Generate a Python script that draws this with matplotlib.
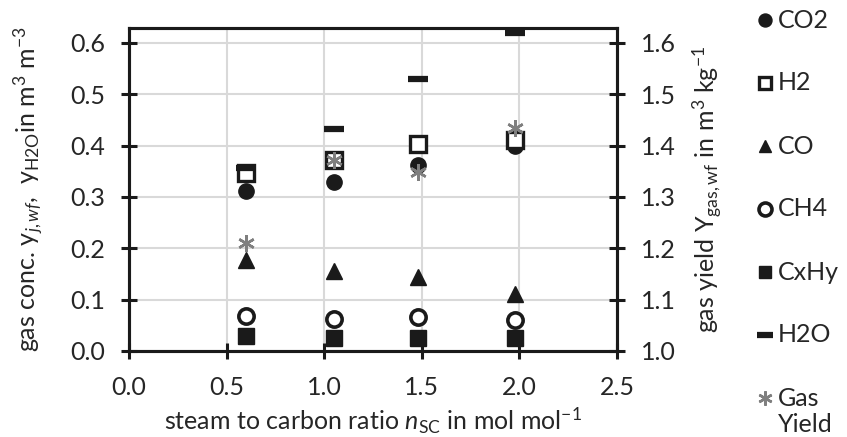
import matplotlib
matplotlib.use("Agg")
import matplotlib.pyplot as plt
from matplotlib.lines import Line2D
from matplotlib.ticker import FormatStrFormatter

plt.rcParams['font.family'] = ['Lato', 'DejaVu Sans']
plt.rcParams['mathtext.fontset'] = 'custom'
plt.rcParams['mathtext.rm'] = 'Lato'
plt.rcParams['mathtext.it'] = 'Lato:italic'
plt.rcParams['mathtext.bf'] = 'Lato:bold'

# steam to carbon ratio
n_sc = [0.60, 1.05, 1.48, 1.98]

# dry gas concentrations (m3/m3)
co2 = [0.312, 0.330, 0.362, 0.400]
h2 = [0.347, 0.372, 0.403, 0.411]
co = [0.177, 0.155, 0.144, 0.111]
ch4 = [0.069, 0.062, 0.066, 0.061]
cxhy = [0.029, 0.026, 0.025, 0.025]
h2o = [0.357, 0.433, 0.530, 0.620]

# gas yield (m3/kg)
gas_yield = [1.210, 1.372, 1.349, 1.435]

series_labels = ['CO2', 'H2', 'CO', 'CH4', 'CxHy', 'H2O', 'Gas', 'Yield']

FS = 18
TXT = '#262626'
black = '#1a1a1a'
grey = '#7f7f7f'

W, H = 847, 437
fig = plt.figure(figsize=(W / 100, H / 100), dpi=100)
ax = fig.add_axes([129 / W, 1 - 351 / H, (617 - 129) / W, (351 - 28) / H])
ax2 = ax.twinx()

ax.set_xlim(0, 2.5)
ax.set_ylim(0, 0.629)
ax2.set_ylim(1.0, 1.629)
ax.set_xticks([0, 0.5, 1.0, 1.5, 2.0, 2.5])
ax.set_yticks([0, 0.1, 0.2, 0.3, 0.4, 0.5, 0.6])
ax2.set_yticks([1.0, 1.1, 1.2, 1.3, 1.4, 1.5, 1.6])
for axis in (ax.xaxis, ax.yaxis, ax2.yaxis):
    axis.set_major_formatter(FormatStrFormatter('%.1f'))

ax.grid(True, color='#d9d9d9', linewidth=1.5, zorder=0)
ax.set_axisbelow(True)

for a in (ax, ax2):
    for s in a.spines.values():
        s.set_linewidth(2.2)
        s.set_color(black)
    a.tick_params(direction='inout', length=12, width=2.2, color=black,
                  labelsize=FS, labelcolor=TXT)
ax.tick_params(axis='x', pad=12)
ax.tick_params(axis='y', pad=11)
ax2.tick_params(axis='y', pad=11)

# marker styles per series
styles = {
    'CO2': dict(marker='o', ms=11, color=black),
    'H2': dict(marker='s', ms=11, mfc='white', mec=black, mew=2.4),
    'CO': dict(marker='^', ms=11, color=black),
    'CH4': dict(marker='o', ms=11, mfc='white', mec=black, mew=2.6),
    'CxHy': dict(marker='s', ms=11, color=black),
    'H2O': dict(marker='_', ms=14, mew=4.5, color=black),
    'Gas': dict(marker=(6, 2, 0), ms=12, mew=1.8, color=grey),
}

ax.plot(n_sc, co2, ls='none', zorder=3, **styles['CO2'])
ax.plot(n_sc, h2, ls='none', zorder=3, **styles['H2'])
ax.plot(n_sc, co, ls='none', zorder=3, **styles['CO'])
ax.plot(n_sc, ch4, ls='none', zorder=3, **styles['CH4'])
ax.plot(n_sc, cxhy, ls='none', zorder=3, **styles['CxHy'])
ax.plot(n_sc, h2o, ls='none', zorder=3, **styles['H2O'])
ax2.plot(n_sc, gas_yield, ls='none', zorder=4, **styles['Gas'])

ax.set_xlabel(r'steam to carbon ratio $n$$_\mathregular{SC}$ in mol mol$^{-1}$',
              fontsize=FS, color=TXT)
ax.xaxis.set_label_coords(0.5, -0.168)
ax.set_ylabel(r'gas conc. y$_{j,wf}$,  y$_\mathregular{H2O}$in m$^3$ m$^{-3}$',
              fontsize=FS, color=TXT)
ax.yaxis.set_label_coords(-0.172, 0.5)
ax2.set_ylabel(r'gas yield Y$_\mathregular{gas,wf}$ in m$^3$ kg$^{-1}$',
               fontsize=FS, color=TXT)
ax2.yaxis.set_label_coords(1.150, 0.5)

# legend column on the right (slightly smaller symbols)
row_y = [20, 83, 146, 209, 272, 335, 398]
mx, tx = 765, 778
for lab, y in zip(series_labels[:7], row_y):
    fy = 1 - y / H
    st = dict(styles[lab])
    st['ms'] = st['ms'] * 0.85
    fig.add_artist(Line2D([mx / W], [fy], ls='none', transform=fig.transFigure,
                          **st))
    fig.text(tx / W, fy, lab, fontsize=FS, color=TXT, ha='left', va='center')
fig.text(tx / W, 1 - 424 / H, series_labels[7], fontsize=FS, color=TXT,
         ha='left', va='center')

fig.savefig('out.png', dpi=100)
